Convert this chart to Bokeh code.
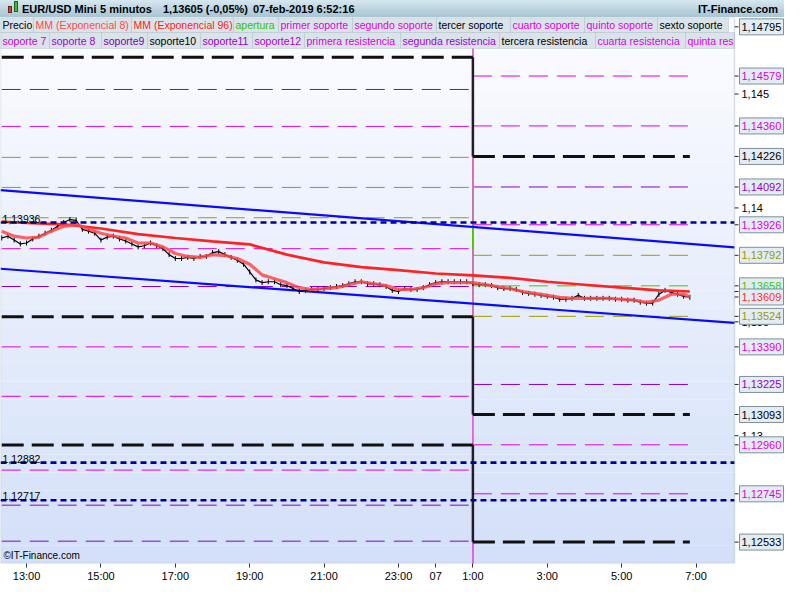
from bokeh.plotting import figure
from bokeh.models import Range1d, FixedTicker, Label, BoxAnnotation, Div, ColumnDataSource
from bokeh.core.properties import value
from bokeh.layouts import column
from bokeh.embed import file_html
from bokeh.resources import INLINE

# ---------------- data ----------------
title_parts = ["EUR/USD Mini", "5 minutos", "1,13605 (-0,05%)", "07-feb-2019 6:52:16"]
brand = "IT-Finance.com"
copyright_text = "\u00a9IT-Finance.com"

# time axis: minutes since 06-feb-2019 12:00
x_tick_pos = [60, 180, 300, 420, 540, 660, 720, 780, 900, 1020, 1140]
x_tick_labels = ["13:00", "15:00", "17:00", "19:00", "21:00", "23:00", "07", "1:00", "3:00", "5:00", "7:00"]
x_view = [18, 1202]
y_view = [1.12439, 1.14836]
y_ticks = [1.13, 1.135, 1.14, 1.145]
y_tick_labels = ["1,13", "1,135", "1,14", "1,145"]
axis_top_value = 1.14795

price_t = list(range(20, 1131, 10))
price_close = [
    1.13868, 1.13876, 1.13859, 1.13842, 1.13846, 1.13864, 1.13876, 1.13889, 1.13902, 1.13919,
    1.13936, 1.13949, 1.13945, 1.13906, 1.13898, 1.13889, 1.13859, 1.13872, 1.13876, 1.13864,
    1.13855, 1.13842, 1.13829, 1.13834, 1.13846, 1.13834, 1.13821, 1.13795, 1.13778, 1.13778,
    1.13783, 1.13778, 1.13787, 1.13787, 1.13804, 1.13808, 1.13795, 1.13783, 1.13770, 1.13753,
    1.13719, 1.13684, 1.13672, 1.13676, 1.13676, 1.13663, 1.13659, 1.13646, 1.13633, 1.13638,
    1.13642, 1.13642, 1.13646, 1.13650, 1.13655, 1.13659, 1.13667, 1.13676, 1.13676, 1.13667,
    1.13667, 1.13663, 1.13655, 1.13638, 1.13633, 1.13646, 1.13642, 1.13642, 1.13650, 1.13663,
    1.13672, 1.13676, 1.13676, 1.13676, 1.13676, 1.13676, 1.13667, 1.13663, 1.13663, 1.13659,
    1.13650, 1.13646, 1.13646, 1.13642, 1.13629, 1.13625, 1.13621, 1.13616, 1.13612, 1.13608,
    1.13599, 1.13599, 1.13603, 1.13616, 1.13603, 1.13603, 1.13603, 1.13603, 1.13603, 1.13599,
    1.13599, 1.13595, 1.13595, 1.13586, 1.13582, 1.13582, 1.13621, 1.13638, 1.13629, 1.13621,
    1.13612, 1.13608,
]

ema8_t = list(range(20, 1121, 20)) + [1130]
ema8 = [
    1.13898, 1.13876, 1.13868, 1.13872, 1.13898, 1.13919, 1.13928, 1.13906, 1.13889, 1.13876,
    1.13868, 1.13846, 1.13846, 1.13829, 1.13800, 1.13787, 1.13783, 1.13795, 1.13791, 1.13778,
    1.13753, 1.13706, 1.13689, 1.13672, 1.13650, 1.13642, 1.13646, 1.13650, 1.13663, 1.13676,
    1.13667, 1.13659, 1.13642, 1.13642, 1.13650, 1.13667, 1.13672, 1.13672, 1.13672, 1.13663,
    1.13655, 1.13646, 1.13633, 1.13625, 1.13616, 1.13608, 1.13603, 1.13603, 1.13603, 1.13603,
    1.13599, 1.13595, 1.13586, 1.13595, 1.13621, 1.13621, 1.13609,
]

ema96_t = [20, 60, 120, 180, 240, 300, 360, 420, 480, 540, 600, 660, 720, 780, 840, 900, 960, 1020, 1080, 1130]
ema96 = [1.13940, 1.13934, 1.13928, 1.13910, 1.13885, 1.13868, 1.13853, 1.13840, 1.13795, 1.13761,
         1.13740, 1.13727, 1.13712, 1.13704, 1.13693, 1.13676, 1.13663, 1.13650, 1.13638, 1.13633]

# daily support / resistance levels: previous day -> new day (switch at 1:00)
session_switch = 780
lvl_old = [1.14661, 1.14520, 1.14358, 1.14222, 1.14090, 1.13957, 1.13821, 1.13655, 1.13522,
           1.13390, 1.13173, 1.12959, 1.12849, 1.12695, 1.12537, 1.15010, 1.14790]
lvl_new = [1.14226, 1.14092, 1.13926, 1.13792, 1.13658, 1.13524, 1.13390, 1.13225, 1.13093,
           1.12960, 1.12745, 1.12533, 1.12420, 1.12262, 1.12105, 1.14579, 1.14360]
lvl_kind = ["black", "purple", "magenta", "olive", "green", "olive", "magenta", "purple", "black",
            "magenta", "magenta", "black", "magenta", "purple", "purple", "magenta", "magenta"]

dotted_levels = [1.13936, 1.12882, 1.12717]
trend_t = [18, 1202]
trend_upper = [1.14078, 1.13827]
trend_lower = [1.13733, 1.13495]

legend_row1 = ["Precio", "MM (Exponencial 8)", "MM (Exponencial 96)", "apertura", "primer soporte",
               "segundo soporte", "tercer soporte", "cuarto soporte", "quinto soporte", "sexto soporte"]
legend_row1_col = ["#000000", "#ff4a4a", "#ff2020", "#33c000", "#dd00dd",
                   "#dd00dd", "#000000", "#dd00dd", "#dd00dd", "#000000"]
legend_row2 = ["soporte 7", "soporte 8", "soporte9", "soporte10", "soporte11", "soporte12",
               "primera resistencia", "segunda resistencia", "tercera resistencia",
               "cuarta resistencia", "quinta res"]
legend_row2_col = ["#c800d0", "#9a00d0", "#7a00b0", "#000000", "#9400d0", "#b000d0",
                   "#d800e0", "#9a00e0", "#000000", "#d800e8", "#d800e8"]

# ---------------- styles / layout ----------------
FONT = "Liberation Sans"
kind_color = {"black": "#111111", "purple": "#8a00c8", "magenta": "#dd00dd",
              "olive": "#a09c00", "green": "#44c800"}
kind_label_color = {"black": "#000000", "purple": "#9000cc", "magenta": "#dd00dd",
                    "olive": "#999900", "green": "#33cc00"}
kind_width = {"black": 3, "purple": 1, "magenta": 1, "olive": 1, "green": 1}
kind_dash = {"black": "22 8", "purple": "19 9", "magenta": "19 9", "olive": "19 9", "green": "19 9"}

W, H_TITLE, H_FIG = 784, 17, 567
BOTTOM, RIGHT = 20, 50
FRAME_H = H_FIG - BOTTOM
PLOT_W = W - RIGHT
mpp = (x_view[1] - x_view[0]) / PLOT_W          # minutes per screen pixel
x_full = [x_view[0], x_view[1] + RIGHT * mpp]    # frame also hosts the price scale zone
row1_edges = [0, 33, 131, 233, 278, 352, 436, 510, 584, 657, 728]
row2_edges = [0, 49, 101, 147, 200, 252, 304, 400, 499, 595, 685, 734]
title_x = [22, 100, 163, 253]
frame_col = "#8a9eaa"

# ---------------- title bar ----------------
spans = "".join(
    f'<span style="position:absolute;left:{x}px;top:2px;white-space:nowrap;">{t}</span>'
    for x, t in zip(title_x, title_parts))
title_html = (
    f'<div style="position:relative;width:{W}px;height:{H_TITLE}px;overflow:hidden;'
    'background:linear-gradient(to bottom,#d6e7ef,#a8c4d3);'
    f"font-family:'{FONT}',Arial,sans-serif;font-weight:bold;font-size:11px;color:#000;\">"
    '<span style="position:absolute;left:8px;top:6px;width:4px;height:7px;background:#e23a3a;border:1px solid #702020;"></span>'
    '<span style="position:absolute;left:14px;top:1px;width:4px;height:11px;background:#38c038;border:1px solid #206020;"></span>'
    + spans +
    f'<span style="position:absolute;right:6px;top:2px;">{brand}</span></div>'
)
head = Div(text=title_html, width=W, height=H_TITLE, margin=0)

# ---------------- figure ----------------
p = figure(width=W, height=H_FIG, output_backend="svg", toolbar_location=None,
           x_range=Range1d(*x_full), y_range=Range1d(*y_view), y_axis_location=None,
           min_border_left=0, min_border_top=0, min_border_right=0, min_border_bottom=BOTTOM)
p.grid.visible = False
p.background_fill_color = "white"
p.border_fill_color = "white"
p.outline_line_color = None

# vertical gradient background of the price area
n_bands = 30
top_rgb, bot_rgb = (251, 252, 255), (212, 224, 249)
for i in range(n_bands):
    f = i / (n_bands - 1)
    rgb = tuple(int(round(a + (b - a) * f)) for a, b in zip(top_rgb, bot_rgb))
    yt = y_view[1] - (y_view[1] - y_view[0]) * i / n_bands
    yb = y_view[1] - (y_view[1] - y_view[0]) * (i + 1) / n_bands
    p.add_layout(BoxAnnotation(right=x_view[1], top=yt, bottom=yb, fill_color="#%02x%02x%02x" % rgb,
                               fill_alpha=1, line_color=None, level="underlay"))

t_start, t_end = price_t[0], price_t[-1]
# level lines
for kind_order in ["purple", "olive", "green", "magenta", "black"]:
    for o, nv, k in zip(lvl_old, lvl_new, lvl_kind):
        if k != kind_order:
            continue
        c = kind_color[k]
        p.line([t_start, session_switch], [o, o], line_color=c, line_width=kind_width[k], line_dash=kind_dash[k])
        p.line([session_switch, t_end], [nv, nv], line_color=c, line_width=kind_width[k], line_dash=kind_dash[k])
        vc = "#e060e0" if k in ("magenta", "purple") else c
        vw = 2.5 if k == "black" else 1.5
        p.line([session_switch, session_switch], [o, nv], line_color=vc, line_width=vw, line_alpha=0.9)

# trend channel
p.line(trend_t, trend_upper, line_color="#0a0aff", line_width=2.2)
p.line(trend_t, trend_lower, line_color="#0a0aff", line_width=2.2)

# price, moving averages
p.line(price_t, price_close, line_color="#000000", line_width=1.2)
p.scatter(price_t, price_close, marker="dash", angle=1.5708, size=5, line_color="#000000", line_width=1)
p.line(ema96_t, ema96, line_color="#ff2222", line_width=2.6)
p.line(ema8_t, ema8, line_color="#ff4848", line_width=3.2, line_alpha=0.85)

# dotted pivot levels spanning the whole price area
for v in dotted_levels:
    p.line(x_view, [v, v], line_color="#000099", line_width=2.6, line_dash="6 4")
    p.add_layout(Label(x=2, y=v, x_units="screen", text=f"{v:.5f}".replace(".", ","),
                       text_font=FONT, text_font_size="10.5px", text_color="#000000",
                       text_baseline="bottom"))

# border of the price area (its right edge is the price scale line)
p.add_layout(BoxAnnotation(right=x_view[1], fill_alpha=0, line_color=frame_col, line_width=1.5,
                           level="overlay"))

# time axis
xa = p.xaxis[0]
xa.ticker = FixedTicker(ticks=x_tick_pos)
xa.major_label_overrides = dict(zip(x_tick_pos, x_tick_labels))
xa.minor_tick_line_color = None
xa.major_tick_in = 0
xa.major_tick_out = 4
xa.major_label_standoff = 2
xa.axis_line_color = None
xa.major_tick_line_color = "#333333"
xa.major_label_text_font = FONT
xa.major_label_text_font_size = "11px"
xa.major_label_text_color = "#000000"

# price scale (right): tick marks, plain tick labels, boxed level values
box_items = [(axis_top_value, "#000000"), (ema96[-1], "#ff3030")]
for v, k in zip(lvl_new, lvl_kind):
    if y_view[0] < v < y_view[1]:
        box_items.append((v, kind_label_color[k]))
box_items.append((ema8[-1], "#ff3030"))

tick_vals = y_ticks + [v for v, _ in box_items]
p.segment(x0=[x_view[1]] * len(tick_vals), x1=[x_view[1] + 4 * mpp] * len(tick_vals),
          y0=tick_vals, y1=tick_vals, line_color="#222222", line_width=1)
p.text(x=[x_view[1] + 7 * mpp] * len(y_ticks), y=y_ticks, text=y_tick_labels,
       text_font=value(FONT), text_font_size=value("11px"), text_color="#000000", text_baseline="middle")
for v, c in box_items:
    src = ColumnDataSource(dict(x=[x_view[1] + 5 * mpp], xc=[x_view[1] + 27 * mpp], y=[v],
                                t=[f"{v:.5f}".replace(".", ",")]))
    p.rect(x="xc", y="y", width=44, height=16, width_units="screen", height_units="screen",
           fill_color="#e4ecf3", line_color="#7c909c", line_width=1, source=src)
    p.text(x="x", y="y", text="t", x_offset=2, text_font=value(FONT), text_font_size=value("11px"),
           text_color=c, text_baseline="middle", source=src)

# legend boxes overlaying the top of the price area
def legend_row(names, colors, edges, top_px):
    for i, (nm, col) in enumerate(zip(names, colors)):
        l, r = edges[i], edges[i + 1]
        p.add_layout(BoxAnnotation(left=l, right=r, top=FRAME_H - top_px, bottom=FRAME_H - top_px - 16,
                                   left_units="screen", right_units="screen", top_units="screen",
                                   bottom_units="screen", fill_color="#dae3e9", fill_alpha=1,
                                   line_color="#97a8b2", line_width=1))
        p.add_layout(Label(x=l + 2, y=FRAME_H - top_px - 8, x_units="screen", y_units="screen", text=nm,
                           text_font=FONT, text_font_size="10.5px", text_color=col, text_baseline="middle"))

legend_row(legend_row1, legend_row1_col, row1_edges, 0)
legend_row(legend_row2, legend_row2_col, row2_edges, 16)

p.add_layout(Label(x=3, y=3, x_units="screen", y_units="screen", text=copyright_text,
                   text_font=FONT, text_font_size="10px", text_color="#000000", text_baseline="bottom"))

layout = column(head, p, spacing=0)
open("out.html", "w").write(file_html(layout, INLINE))
